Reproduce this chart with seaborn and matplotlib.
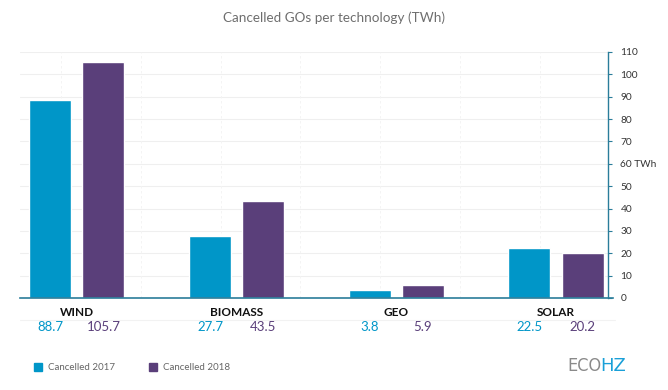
import matplotlib
matplotlib.use("Agg")
import matplotlib.pyplot as plt
import matplotlib.transforms as mtransforms
from matplotlib.patches import Rectangle
import seaborn as sns
import pandas as pd

categories = ["WIND", "BIOMASS", "GEO", "SOLAR"]
series = ["Cancelled 2017", "Cancelled 2018"]
values_2017 = [88.7, 27.7, 3.8, 22.5]
values_2018 = [105.7, 43.5, 5.9, 20.2]
y_ticks = [0, 10, 20, 30, 40, 50, 60, 70, 80, 90, 100, 110]
y_tick_labels = ["0", "10", "20", "30", "40", "50", "60 TWh", "70", "80", "90", "100", "110"]

colors = ["#0096c8", "#5a3f7a"]
axis_color = "#2a7d9a"

df = pd.DataFrame({
    "tech": categories * 2,
    "series": [series[0]] * 4 + [series[1]] * 4,
    "value": values_2017 + values_2018,
})

sns.set_theme(style="white")
plt.rcParams["font.family"] = ["Lato", "DejaVu Sans"]

fig = plt.figure(figsize=(6.68, 3.90), dpi=100)
ax = fig.add_axes([0.030, 0.2359, 0.880, 0.6308])

sns.barplot(data=df, x="tech", y="value", hue="series", order=categories,
            hue_order=series, palette=colors, width=0.665, gap=0.21,
            legend=False, ax=ax, saturation=1)

ax.set_xlim(-0.356, 3.325)
ax.set_ylim(0, 110)
ax.set_xlabel("")
ax.set_ylabel("")
ax.set_xticks([])

# gridlines
for t in y_ticks[1:]:
    ax.axhline(t, color="#efefef", lw=0.8, zorder=0)
for xv in [-0.1, 0.9, 1.9, 2.9, 0.4, 1.4, 2.4]:
    ax.axvline(xv, color="#f3f3f3", lw=0.6, ls=(0, (3, 3)), zorder=0)

ax.yaxis.tick_right()
ax.set_yticks(y_ticks)
ax.set_yticklabels(y_tick_labels)
ax.tick_params(axis="y", direction="out", length=3, width=0.8, color=axis_color,
               labelsize=7.3, labelcolor="#333333", pad=6)
for s in ["top", "left"]:
    ax.spines[s].set_visible(False)
ax.spines["right"].set_color(axis_color)
ax.spines["right"].set_linewidth(1.0)
ax.spines["bottom"].set_color(axis_color)
ax.spines["bottom"].set_linewidth(1.2)
ax.spines["bottom"].set_bounds(-0.356, 3.36)
ax.spines["bottom"].set_clip_on(False)

trans = mtransforms.blended_transform_factory(ax.transData, fig.transFigure)
off = 0.166
for i, cat in enumerate(categories):
    fig.text(i, 1 - 313 / 390, cat, transform=trans, ha="center", va="center",
             fontsize=8.5, fontweight="bold", color="#111111")
    fig.text(i - off, 1 - 327 / 390, f"{values_2017[i]:.1f}", transform=trans,
             ha="center", va="center", fontsize=9.5, color=colors[0])
    fig.text(i + off, 1 - 327 / 390, f"{values_2018[i]:.1f}", transform=trans,
             ha="center", va="center", fontsize=9.5, color=colors[1])

# separator between labels and values
fig.add_artist(plt.Line2D([20 / 668, 615 / 668], [1 - 320 / 390] * 2,
                          color="#f2f2f2", lw=0.8))

fig.suptitle("Cancelled GOs per technology (TWh)", y=1 - 18 / 390, va="center",
             fontsize=9.7, color="#6e6e6e")

# legend
leg_y = 1 - 367 / 390
for xpix, lab, c in [(34, series[0], colors[0]), (149, series[1], colors[1])]:
    fig.add_artist(Rectangle((xpix / 668, leg_y - 4 / 390), 8 / 668, 8 / 390,
                             transform=fig.transFigure, color=c))
    fig.text((xpix + 14) / 668, leg_y, lab, ha="left", va="center",
             fontsize=7, color="#666666")

# logo
fig.text(567 / 668, 1 - 366 / 390, "ECO", ha="left", va="center", fontsize=13,
         color="#8a8a8a", family=["DejaVu Sans"], fontweight="light",
         fontstretch="condensed")
fig.text(600 / 668, 1 - 366 / 390, "HZ", ha="left", va="center", fontsize=13,
         color="#1aa0d8", family=["DejaVu Sans"])

fig.savefig("out.png", dpi=100)
